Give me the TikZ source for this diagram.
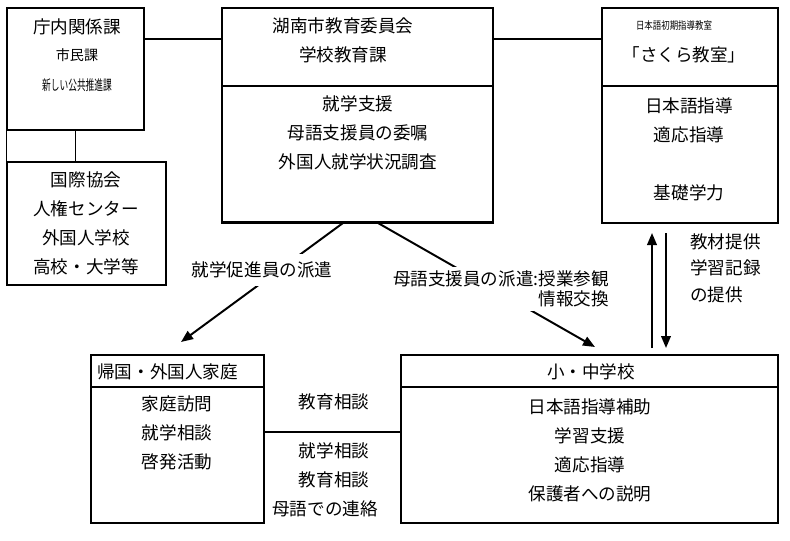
\documentclass[tikz,border=0pt]{standalone}
\usepackage{fontspec}
\setmainfont{Noto Sans CJK JP}
\usetikzlibrary{arrows.meta, positioning, fit}
\newcommand{\jpm}{\fontsize{12.5pt}{20.6pt}\selectfont}
\newcommand{\jps}{\fontsize{10pt}{12pt}\selectfont}

\begin{document}
\begin{tikzpicture}[
    x=0.025cm, y=-0.025cm,
    every node/.style={font=\jpm},
    box/.style={draw, line width=0.8pt, inner sep=0pt},
    txt/.style={align=center, inner sep=0pt},
    link/.style={line width=0.8pt},
    arr/.style={line width=1.4pt, -{Triangle[length=0.3cm, width=0.24cm]}},
    lbl/.style={fill=white, inner xsep=2pt}
  ]
    \useasboundingbox (0,0) rectangle (790,540);

    % Boxes
    \node[box, fit={(7,8) (144,130)}] (ward) {};
    \node[box, fit={(7,162) (166,285)}] (intl) {};
    \node[box, fit={(222,8) (493,222)}] (board) {};
    \node[box, fit={(602,8) (778,223)}] (sakura) {};
    \node[box, fit={(91,355) (264,523)}] (family) {};
    \node[box, fit={(401,355) (778,523)}] (school) {};

    % Dividers
    \draw[link] (board.west |- 0,86) -- (board.east |- 0,86);
    \draw[link] (sakura.west |- 0,86) -- (sakura.east |- 0,86);
    \draw[link] (family.west |- 0,387) -- (family.east |- 0,387);
    \draw[link] (school.west |- 0,387) -- (school.east |- 0,387);
    \draw[line width=2.2pt] (board.south west) -- (board.south east);

    % Connections
    \draw[link] (ward.east |- 0,39) -- (board.west |- 0,39);
    \draw[link] (board.east |- 0,39) -- (sakura.west |- 0,39);
    \draw[link] (ward.south west) -- (intl.north west);
    \draw[link] (ward.south) -- (ward.south |- intl.north);
    \draw[link] (family.east |- 0,432) -- (school.west |- 0,432);

    % Arrows
    \coordinate (p1) at (343,223);
    \coordinate (p1e) at (181,342);
    \coordinate (p2) at (378,223);
    \coordinate (p2e) at (595,347);
    \coordinate (up0) at (652,348);
    \coordinate (up1) at (652,233);
    \coordinate (dn0) at (666,233);
    \coordinate (dn1) at (666,348);
    \draw[arr] (p1) -- (p1e);
    \draw[arr] (p2) -- (p2e);
    \draw[arr] (up0) -- (up1);
    \draw[arr] (dn0) -- (dn1);

    % Arrow labels
    \node[lbl, inner ysep=5.5pt] (dispatch) at (262,270) {就学促進員の派遣};
    \node[lbl, inner ysep=2.5pt, align=right, anchor=east,
          font=\fontsize{12.5pt}{14.2pt}\selectfont] (helper) at (612,289)
          {母語支援員の派遣:授業参観\\情報交換};
    \node[txt, anchor=west, align=left,
          font=\fontsize{12.5pt}{18.8pt}\selectfont] (supply) at (690,268)
          {教材提供\\学習記録\\の提供};

    % Box texts
    \node[txt] (wardT) at (77,27) {庁内関係課};
    \node[txt, font=\jps] (wardS) at (77,55) {市民課};
    \node[txt, font=\jps] (wardN) at (77,85) {\scalebox{0.62}[1]{新しい公共推進課}};
    \node[txt] (intlT) at (86,223) {国際協会\\人権センター\\外国人学校\\高校・大学等};

    \node[txt] (boardT) at (343,40) {湖南市教育委員会\\学校教育課};
    \node[txt] (boardB) at (358,133) {就学支援\\母語支援員の委嘱\\外国人就学状況調査};

    \node[txt, font=\fontsize{7.5pt}{9pt}\selectfont] (sakuraS) at (674,26)
          {\scalebox{0.8}[1]{日本語初期指導教室}};
    \node[txt] (sakuraT) at (684,55) {「さくら教室」};
    \node[txt] (sakuraB) at (689,120) {日本語指導\\適応指導};
    \node[txt] (sakuraC) at (689,193) {基礎学力};

    \node[txt, anchor=west] (familyT) at (97,372) {帰国・外国人家庭};
    \node[txt] (familyB) at (177,433) {家庭訪問\\就学相談\\啓発活動};

    \node[txt] (schoolT) at (591,372) {小・中学校};
    \node[txt] (schoolB) at (590,450) {日本語指導補助\\学習支援\\適応指導\\保護者への説明};

    \node[txt] (talkA) at (334,402) {教育相談};
    \node[txt] (talkB) at (334,465) {就学相談\\教育相談};
    \node[txt] (talkC) at (325,509) {母語での連絡};
  \end{tikzpicture}
\end{document}
